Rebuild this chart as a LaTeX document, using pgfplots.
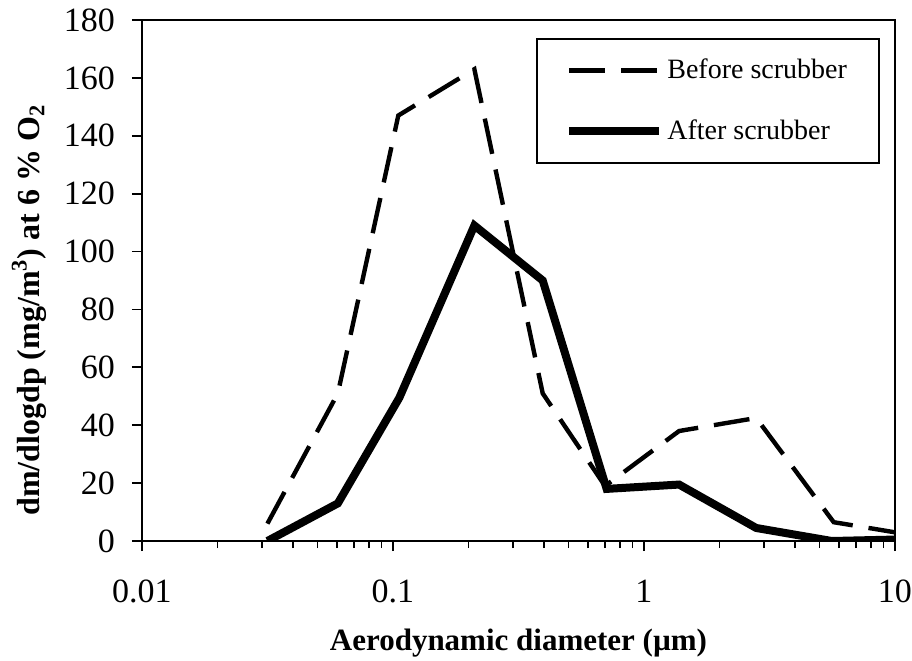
\documentclass[border=0pt]{standalone}
\usepackage{pgfplots}
\pgfplotsset{compat=1.18}
\usepackage{fontspec}
\setmainfont{Liberation Serif}
\begin{document}
\begin{tikzpicture}
\path[use as bounding box] (-71pt,-59.5pt) rectangle (385pt,270.5pt);
\begin{axis}[
  scale only axis, width=376.5pt, height=260.5pt,
  at={(0,0)}, anchor=south west,
  xmode=log, log basis x=10,
  xmin=0.01, xmax=10, ymin=0, ymax=180,
  xtick={0.01,0.1,1,10}, xticklabels={0.01,0.1,1,10},
  minor xtick={0.02,0.03,0.04,0.05,0.06,0.07,0.08,0.09,0.2,0.3,0.4,0.5,0.6,0.7,0.8,0.9,2,3,4,5,6,7,8,9},
  ytick={0,20,...,180},
  /pgf/number format/assume math mode=true,
  tick pos=left, tick align=outside,
  major tick length=5pt, minor tick length=3.5pt,
  axis line style={line width=1pt},
  every tick/.style={black, line width=0.9pt},
  tick label style={font=\fontsize{17}{20}\selectfont},
  xticklabel style={yshift=-11pt},
  yticklabel style={xshift=-5pt},
  xlabel={\bfseries Aerodynamic diameter (µm)},
  ylabel={\bfseries dm/dlogdp (mg/m\textsuperscript{3}) at 6 \% O\textsubscript{2}},
  xlabel style={font=\fontsize{15.5}{18}\selectfont, at={(axis description cs:0.5,-0.196)}, anchor=center},
  ylabel style={font=\fontsize{16}{19}\selectfont, at={(axis description cs:-0.150,0.443)}, anchor=center, rotate=0},
  legend style={at={(rel axis cs:0.980,0.965)}, anchor=north east, draw=black, line width=1pt,
    font=\fontsize{14}{17}\selectfont, inner xsep=14pt, inner ysep=8pt, row sep=15pt},
  legend cell align=left,
  legend image code/.code={\path (0pt,0pt) -- (45pt,0pt); \draw[#1] (0pt,0pt) -- (41.5pt,0pt);},
]
\addplot[black, line width=2.2pt, dash pattern=on 18pt off 8pt] coordinates {
  (0.0316,6) (0.0603,51) (0.105,147) (0.211,163) (0.395,51) (0.70,19)
  (1.38,38) (2.8,42.5) (5.7,6.5) (10,3)
};
\addlegendentry{Before scrubber}
\addplot[black, line width=4pt] coordinates {
  (0.0316,0) (0.0603,13) (0.106,49.5) (0.211,109) (0.395,90) (0.71,18)
  (1.38,19.5) (2.8,4.5) (5.6,0) (10,0.5)
};
\addlegendentry{After scrubber}
\end{axis}
\end{tikzpicture}
\end{document}
